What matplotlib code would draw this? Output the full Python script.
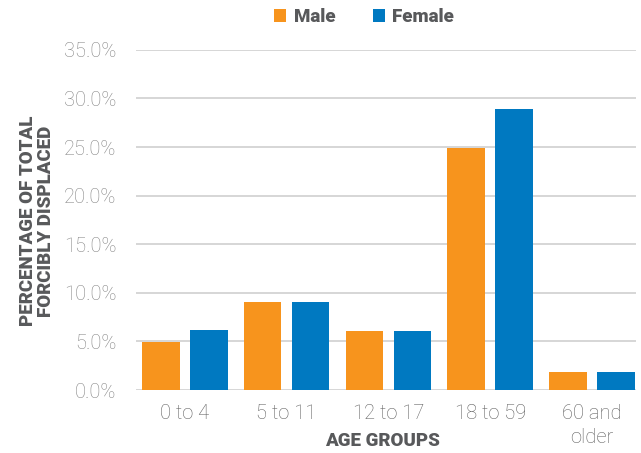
import matplotlib
matplotlib.use('Agg')
import matplotlib.pyplot as plt
import numpy as np

age_groups = ['0 to 4', '5 to 11', '12 to 17', '18 to 59', '60 and\nolder']
male = [4.9, 9.1, 6.1, 24.9, 1.9]
female = [6.2, 9.1, 6.1, 28.9, 1.9]
y_ticks = [0, 5, 10, 15, 20, 25, 30, 35]

orange = '#F7941D'
blue = '#0079C1'
label_grey = '#58595B'

fig = plt.figure(figsize=(6.41, 4.53), dpi=100)
ax = fig.add_axes([0.212, 0.139, 0.780, 0.751])

x = np.arange(len(age_groups))
w = 0.37
ax.bar(x - 0.236, male, width=w, color=orange, label='Male', zorder=3)
ax.bar(x + 0.236, female, width=w, color=blue, label='Female', zorder=3)

ax.set_xlim(-0.48, 4.43)
ax.set_ylim(0, 35)
ax.set_yticks(y_ticks)
ax.set_yticklabels(['%.1f%%' % v for v in y_ticks], fontfamily='Roboto',
                   fontweight='light', fontsize=14.5, color='#858585')
ax.set_xticks(x)
ax.set_xticklabels(age_groups, fontfamily='Roboto', fontweight='light',
                   fontsize=14.5, color='#606060', linespacing=1.35)
ax.tick_params(axis='y', length=0, pad=14)
ax.tick_params(axis='x', length=0, pad=10)
ax.grid(axis='y', color='#d0d0d0', linewidth=1.2, zorder=0)
for s in ax.spines.values():
    s.set_visible(False)

fig.text(0.058, 0.512, 'PERCENTAGE OF TOTAL\nFORCIBLY DISPLACED', rotation=90,
         ha='center', va='center', fontfamily='Roboto', fontweight='black',
         fontsize=13.5, color=label_grey, linespacing=1.0)
fig.text(0.597, 0.027, 'AGE GROUPS', ha='center', va='center',
         fontfamily='Roboto', fontweight='black', fontsize=13.5, color=label_grey)

leg = fig.legend(loc='center', bbox_to_anchor=(0.568, 0.962), ncol=2, frameon=False,
                 prop={'family': 'Roboto', 'weight': 'black', 'size': 13.5},
                 handlelength=0.65, handleheight=0.65, handletextpad=0.4,
                 columnspacing=2.0)
for t in leg.get_texts():
    t.set_color(label_grey)

fig.savefig('out.png', dpi=100)
